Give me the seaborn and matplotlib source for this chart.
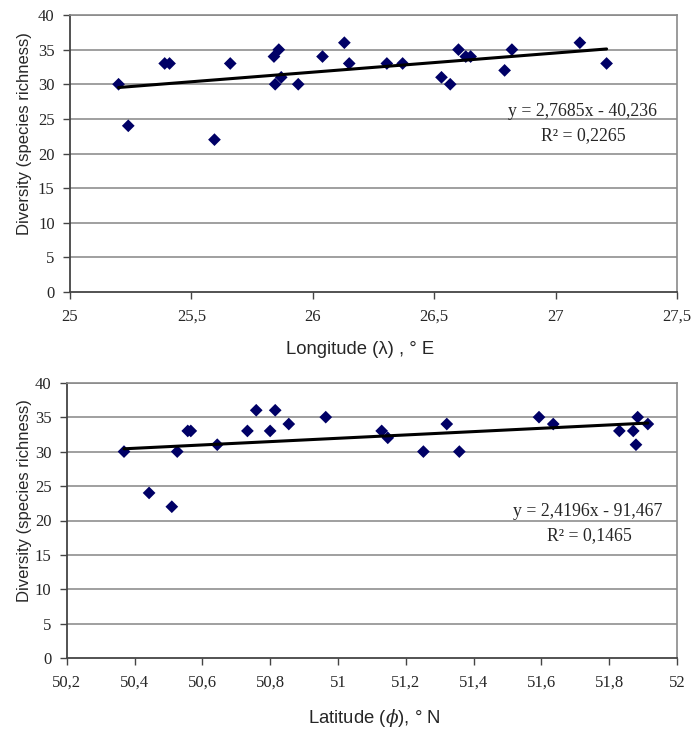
import numpy as np
import pandas as pd
import matplotlib
matplotlib.use("Agg")
import matplotlib.pyplot as plt
import seaborn as sns

# ---- data ----
lon = [25.20, 25.24, 25.39, 25.41, 25.595, 25.66, 25.84, 25.86, 25.845, 25.87,
       25.94, 26.04, 26.13, 26.15, 26.305, 26.37, 26.60, 26.63, 26.65, 26.53,
       26.566, 26.79, 26.82, 27.10, 27.21]
div_lon = [30, 24, 33, 33, 22, 33, 34, 35, 30, 31,
           30, 34, 36, 33, 33, 33, 35, 34, 34, 31,
           30, 32, 35, 36, 33]

lat = [50.369, 50.443, 50.51, 50.526, 50.557, 50.566, 50.644, 50.733, 50.759, 50.80,
       50.815, 50.855, 50.964, 51.129, 51.147, 51.252, 51.321, 51.358, 51.593, 51.635,
       51.83, 51.871, 51.884, 51.879, 51.914]
div_lat = [30, 24, 22, 30, 33, 33, 31, 33, 36, 33,
           36, 34, 35, 33, 32, 30, 34, 30, 35, 34,
           33, 33, 35, 31, 34]

lon_fit = [2.7685, -40.236]   # slope, intercept
lat_fit = [2.4196, -91.467]
lon_eq = ["y = 2,7685x - 40,236", "R\u00b2 = 0,2265"]
lat_eq = ["y = 2,4196x - 91,467", "R\u00b2 = 0,1465"]

y_ticks = [0, 5, 10, 15, 20, 25, 30, 35, 40]
lon_ticks = [25, 25.5, 26, 26.5, 27, 27.5]
lon_ticklabels = ["25", "25,5", "26", "26,5", "27", "27,5"]
lat_ticks = [50.2, 50.4, 50.6, 50.8, 51, 51.2, 51.4, 51.6, 51.8, 52]
lat_ticklabels = ["50,2", "50,4", "50,6", "50,8", "51", "51,2", "51,4", "51,6", "51,8", "52"]

ylabel = "Diversity (species richness)"
lon_label = "Longitude (\u03bb) , \u00b0 E"
lat_label = "Latitude ($\\phi$), \u00b0 N"

# ---- style ----
sns.set_style("white")
plt.rcParams["font.family"] = ["Liberation Sans", "DejaVu Sans"]
plt.rcParams["mathtext.fontset"] = "dejavuserif"

fig = plt.figure(figsize=(6.94, 7.29), dpi=100)
ax1 = fig.add_axes([70 / 694, 1 - 292 / 729, 607 / 694, 277 / 729])
ax2 = fig.add_axes([66.7 / 694, 1 - 658.3 / 729, 610.3 / 694, 275.6 / 729])

marker_color = "#000066"
serif = ["Liberation Serif", "DejaVu Serif"]


def draw(ax, xs, ys, fit, eq, xticks, xticklabels, xlim, xlabel, eq_xy,
         xlab_xy, ylab_xy):
    df = pd.DataFrame({"x": xs, "y": ys})
    for yv in y_ticks[1:]:
        ax.axhline(yv, color="#858585", lw=1.1, zorder=0)
    sns.scatterplot(data=df, x="x", y="y", ax=ax, marker="D", s=42,
                    color=marker_color, edgecolor="none", zorder=3, legend=False)
    xr = np.array([min(xs), max(xs)])
    line = pd.DataFrame({"x": xr, "y": fit[0] * xr + fit[1]})
    sns.lineplot(data=line, x="x", y="y", ax=ax, color="black", lw=2.2, zorder=4)
    ax.set_xlim(*xlim)
    ax.set_ylim(0, 40)
    ax.set_yticks(y_ticks)
    ax.set_yticklabels([str(v) for v in y_ticks], family=serif, fontsize=12)
    ax.set_xticks(xticks)
    ax.set_xticklabels(xticklabels, family=serif, fontsize=12)
    ax.tick_params(axis="both", direction="out", length=5, width=1,
                   color="#444444", pad=7, bottom=True, left=True)
    ax.tick_params(axis="y", pad=6)
    ax.set_xlabel(xlabel, fontsize=13.3)
    ax.set_ylabel(ylabel, fontsize=12)
    ax.xaxis.label.set_va("center")
    ax.yaxis.label.set_va("center")
    ax.xaxis.set_label_coords(*xlab_xy)
    ax.yaxis.set_label_coords(*ylab_xy)
    for side in ["left", "bottom"]:
        ax.spines[side].set_color("#444444")
        ax.spines[side].set_linewidth(1.3)
    for side in ["top", "right"]:
        ax.spines[side].set_color("#8a8a8a")
        ax.spines[side].set_linewidth(1.2)
    ax.text(eq_xy[0], eq_xy[1], eq[0], transform=ax.transAxes, ha="center",
            va="center", family=serif, fontsize=12.8)
    ax.text(eq_xy[0] + 0.002, eq_xy[1] - 0.087, eq[1], transform=ax.transAxes,
            ha="center", va="center", family=serif, fontsize=12.8)


draw(ax1, lon, div_lon, lon_fit, lon_eq, lon_ticks, lon_ticklabels, (25, 27.5),
     lon_label, ((582 - 70) / 607, (292 - 111) / 277),
     (0.478, -0.209), ((25 - 70) / 607, 0.572))
draw(ax2, lat, div_lat, lat_fit, lat_eq, lat_ticks, lat_ticklabels, (50.2, 52),
     lat_label, ((588 - 66.7) / 610.3, (658.3 - 511.7) / 275.6),
     (0.5035, -0.2166), ((25 - 66.7) / 610.3, 0.574))

fig.savefig("out.png", dpi=100)
